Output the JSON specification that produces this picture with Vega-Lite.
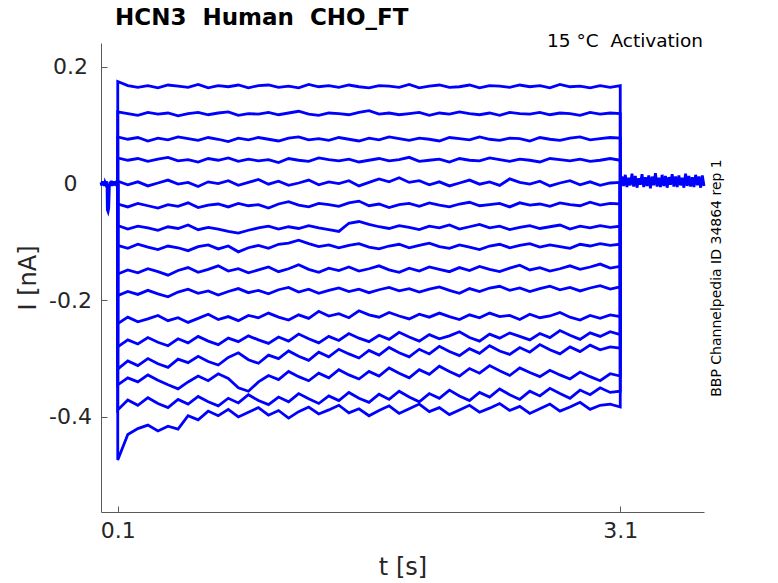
{
  "$schema": "https://vega.github.io/schema/vega-lite/v6.json",
  "width": 603,
  "height": 469,
  "autosize": {"type": "none"},
  "padding": {"left": 101, "top": 43, "right": 74, "bottom": 71},
  "background": "white",
  "title": {
    "text": "HCN3\u00a0 Human\u00a0 CHO_FT",
    "anchor": "start",
    "frame": "group",
    "dx": 14,
    "offset": -16,
    "baseline": "alphabetic",
    "font": "DejaVu Sans",
    "fontSize": 23,
    "fontWeight": "bold",
    "color": "#000000"
  },
  "datasets": {
    "traces": [
      {"s":0,"t":0,"i":2},{"s":0,"t":4,"i":-3},{"s":0,"t":8,"i":4},{"s":0,"t":12,"i":-2},{"s":0,"t":16,"i":3},{"s":0,"t":20,"i":-4},{"s":0,"t":24,"i":2},{"s":0,"t":28,"i":-1},{"s":0,"t":32,"i":4},{"s":0,"t":36,"i":-3},{"s":0,"t":38,"i":-45},{"s":0,"t":42,"i":-48},{"s":0,"t":46,"i":-42},{"s":0,"t":50,"i":-4},{"s":0,"t":54,"i":3},{"s":0,"t":58,"i":-2},{"s":0,"t":62,"i":5},{"s":0,"t":66,"i":-4},{"s":0,"t":70,"i":2},{"s":0,"t":74,"i":-3},{"s":0,"t":78,"i":4},{"s":0,"t":82,"i":-1},{"s":0,"t":86,"i":3},{"s":0,"t":90,"i":-4},{"s":0,"t":94,"i":5},{"s":0,"t":98,"i":-2},{"s":0,"t":100,"i":0},

      {"s":1,"t":100,"i":0},{"s":1,"t":100,"i":175},{"s":1,"t":160,"i":168},{"s":1,"t":220,"i":165},{"s":1,"t":280,"i":168},{"s":1,"t":340,"i":164},{"s":1,"t":400,"i":169},{"s":1,"t":460,"i":167},{"s":1,"t":520,"i":165},{"s":1,"t":580,"i":170},{"s":1,"t":640,"i":164},{"s":1,"t":700,"i":168},{"s":1,"t":760,"i":166},{"s":1,"t":820,"i":169},{"s":1,"t":880,"i":164},{"s":1,"t":940,"i":168},{"s":1,"t":1000,"i":169},{"s":1,"t":1060,"i":165},{"s":1,"t":1120,"i":167},{"s":1,"t":1180,"i":164},{"s":1,"t":1240,"i":170},{"s":1,"t":1300,"i":166},{"s":1,"t":1360,"i":168},{"s":1,"t":1420,"i":165},{"s":1,"t":1480,"i":169},{"s":1,"t":1540,"i":166},{"s":1,"t":1600,"i":164},{"s":1,"t":1660,"i":168},{"s":1,"t":1720,"i":167},{"s":1,"t":1780,"i":165},{"s":1,"t":1840,"i":170},{"s":1,"t":1900,"i":164},{"s":1,"t":1960,"i":167},{"s":1,"t":2020,"i":169},{"s":1,"t":2080,"i":165},{"s":1,"t":2140,"i":166},{"s":1,"t":2200,"i":169},{"s":1,"t":2260,"i":164},{"s":1,"t":2320,"i":168},{"s":1,"t":2380,"i":167},{"s":1,"t":2440,"i":165},{"s":1,"t":2500,"i":169},{"s":1,"t":2560,"i":166},{"s":1,"t":2620,"i":168},{"s":1,"t":2680,"i":164},{"s":1,"t":2740,"i":170},{"s":1,"t":2800,"i":166},{"s":1,"t":2860,"i":167},{"s":1,"t":2920,"i":164},{"s":1,"t":2980,"i":168},{"s":1,"t":3040,"i":165},{"s":1,"t":3100,"i":168},{"s":1,"t":3100,"i":0},

      {"s":2,"t":100,"i":0},{"s":2,"t":100,"i":123},{"s":2,"t":160,"i":120},{"s":2,"t":220,"i":117},{"s":2,"t":280,"i":122},{"s":2,"t":340,"i":119},{"s":2,"t":400,"i":121},{"s":2,"t":460,"i":116},{"s":2,"t":520,"i":120},{"s":2,"t":580,"i":122},{"s":2,"t":640,"i":118},{"s":2,"t":700,"i":121},{"s":2,"t":760,"i":123},{"s":2,"t":820,"i":117},{"s":2,"t":880,"i":120},{"s":2,"t":940,"i":119},{"s":2,"t":1000,"i":122},{"s":2,"t":1060,"i":118},{"s":2,"t":1120,"i":121},{"s":2,"t":1180,"i":124},{"s":2,"t":1240,"i":119},{"s":2,"t":1300,"i":117},{"s":2,"t":1360,"i":121},{"s":2,"t":1420,"i":120},{"s":2,"t":1480,"i":118},{"s":2,"t":1540,"i":122},{"s":2,"t":1600,"i":125},{"s":2,"t":1660,"i":119},{"s":2,"t":1720,"i":121},{"s":2,"t":1780,"i":118},{"s":2,"t":1840,"i":120},{"s":2,"t":1900,"i":122},{"s":2,"t":1960,"i":117},{"s":2,"t":2020,"i":121},{"s":2,"t":2080,"i":119},{"s":2,"t":2140,"i":123},{"s":2,"t":2200,"i":120},{"s":2,"t":2260,"i":118},{"s":2,"t":2320,"i":121},{"s":2,"t":2380,"i":117},{"s":2,"t":2440,"i":122},{"s":2,"t":2500,"i":120},{"s":2,"t":2560,"i":119},{"s":2,"t":2620,"i":122},{"s":2,"t":2680,"i":118},{"s":2,"t":2740,"i":121},{"s":2,"t":2800,"i":120},{"s":2,"t":2860,"i":117},{"s":2,"t":2920,"i":122},{"s":2,"t":2980,"i":119},{"s":2,"t":3040,"i":121},{"s":2,"t":3100,"i":120},{"s":2,"t":3100,"i":0},

      {"s":3,"t":100,"i":0},{"s":3,"t":100,"i":80},{"s":3,"t":160,"i":76},{"s":3,"t":220,"i":79},{"s":3,"t":280,"i":73},{"s":3,"t":340,"i":78},{"s":3,"t":400,"i":75},{"s":3,"t":460,"i":80},{"s":3,"t":520,"i":77},{"s":3,"t":580,"i":74},{"s":3,"t":640,"i":79},{"s":3,"t":700,"i":76},{"s":3,"t":760,"i":72},{"s":3,"t":820,"i":78},{"s":3,"t":880,"i":75},{"s":3,"t":940,"i":79},{"s":3,"t":1000,"i":76},{"s":3,"t":1060,"i":73},{"s":3,"t":1120,"i":78},{"s":3,"t":1180,"i":80},{"s":3,"t":1240,"i":75},{"s":3,"t":1300,"i":77},{"s":3,"t":1360,"i":74},{"s":3,"t":1420,"i":79},{"s":3,"t":1480,"i":76},{"s":3,"t":1540,"i":73},{"s":3,"t":1600,"i":78},{"s":3,"t":1660,"i":75},{"s":3,"t":1720,"i":80},{"s":3,"t":1780,"i":77},{"s":3,"t":1840,"i":74},{"s":3,"t":1900,"i":78},{"s":3,"t":1960,"i":76},{"s":3,"t":2020,"i":73},{"s":3,"t":2080,"i":79},{"s":3,"t":2140,"i":77},{"s":3,"t":2200,"i":75},{"s":3,"t":2260,"i":80},{"s":3,"t":2320,"i":76},{"s":3,"t":2380,"i":74},{"s":3,"t":2440,"i":78},{"s":3,"t":2500,"i":77},{"s":3,"t":2560,"i":73},{"s":3,"t":2620,"i":79},{"s":3,"t":2680,"i":76},{"s":3,"t":2740,"i":74},{"s":3,"t":2800,"i":78},{"s":3,"t":2860,"i":80},{"s":3,"t":2920,"i":75},{"s":3,"t":2980,"i":77},{"s":3,"t":3040,"i":79},{"s":3,"t":3100,"i":78},{"s":3,"t":3100,"i":0},

      {"s":4,"t":100,"i":0},{"s":4,"t":100,"i":44},{"s":4,"t":160,"i":40},{"s":4,"t":220,"i":43},{"s":4,"t":280,"i":38},{"s":4,"t":340,"i":42},{"s":4,"t":400,"i":45},{"s":4,"t":460,"i":39},{"s":4,"t":520,"i":41},{"s":4,"t":580,"i":37},{"s":4,"t":640,"i":43},{"s":4,"t":700,"i":40},{"s":4,"t":760,"i":44},{"s":4,"t":820,"i":38},{"s":4,"t":880,"i":42},{"s":4,"t":940,"i":39},{"s":4,"t":1000,"i":41},{"s":4,"t":1060,"i":36},{"s":4,"t":1120,"i":43},{"s":4,"t":1180,"i":40},{"s":4,"t":1240,"i":38},{"s":4,"t":1300,"i":44},{"s":4,"t":1360,"i":41},{"s":4,"t":1420,"i":39},{"s":4,"t":1480,"i":42},{"s":4,"t":1540,"i":37},{"s":4,"t":1600,"i":40},{"s":4,"t":1660,"i":43},{"s":4,"t":1720,"i":39},{"s":4,"t":1780,"i":41},{"s":4,"t":1840,"i":45},{"s":4,"t":1900,"i":38},{"s":4,"t":1960,"i":40},{"s":4,"t":2020,"i":42},{"s":4,"t":2080,"i":37},{"s":4,"t":2140,"i":43},{"s":4,"t":2200,"i":40},{"s":4,"t":2260,"i":39},{"s":4,"t":2320,"i":44},{"s":4,"t":2380,"i":41},{"s":4,"t":2440,"i":38},{"s":4,"t":2500,"i":42},{"s":4,"t":2560,"i":40},{"s":4,"t":2620,"i":37},{"s":4,"t":2680,"i":43},{"s":4,"t":2740,"i":41},{"s":4,"t":2800,"i":39},{"s":4,"t":2860,"i":42},{"s":4,"t":2920,"i":38},{"s":4,"t":2980,"i":40},{"s":4,"t":3040,"i":43},{"s":4,"t":3100,"i":40},{"s":4,"t":3100,"i":0},

      {"s":5,"t":100,"i":0},{"s":5,"t":100,"i":4},{"s":5,"t":160,"i":-2},{"s":5,"t":220,"i":3},{"s":5,"t":280,"i":-4},{"s":5,"t":340,"i":1},{"s":5,"t":400,"i":6},{"s":5,"t":460,"i":-1},{"s":5,"t":520,"i":2},{"s":5,"t":580,"i":-5},{"s":5,"t":640,"i":3},{"s":5,"t":700,"i":0},{"s":5,"t":760,"i":5},{"s":5,"t":820,"i":-3},{"s":5,"t":880,"i":2},{"s":5,"t":940,"i":7},{"s":5,"t":1000,"i":-1},{"s":5,"t":1060,"i":4},{"s":5,"t":1120,"i":-3},{"s":5,"t":1180,"i":1},{"s":5,"t":1240,"i":6},{"s":5,"t":1300,"i":-2},{"s":5,"t":1360,"i":3},{"s":5,"t":1420,"i":0},{"s":5,"t":1480,"i":5},{"s":5,"t":1540,"i":-4},{"s":5,"t":1600,"i":2},{"s":5,"t":1660,"i":8},{"s":5,"t":1720,"i":3},{"s":5,"t":1780,"i":10},{"s":5,"t":1840,"i":2},{"s":5,"t":1900,"i":5},{"s":5,"t":1960,"i":-2},{"s":5,"t":2020,"i":3},{"s":5,"t":2080,"i":-4},{"s":5,"t":2140,"i":1},{"s":5,"t":2200,"i":6},{"s":5,"t":2260,"i":-1},{"s":5,"t":2320,"i":3},{"s":5,"t":2380,"i":-3},{"s":5,"t":2440,"i":8},{"s":5,"t":2500,"i":2},{"s":5,"t":2560,"i":-1},{"s":5,"t":2620,"i":4},{"s":5,"t":2680,"i":-4},{"s":5,"t":2740,"i":1},{"s":5,"t":2800,"i":5},{"s":5,"t":2860,"i":-2},{"s":5,"t":2920,"i":3},{"s":5,"t":2980,"i":-3},{"s":5,"t":3040,"i":1},{"s":5,"t":3100,"i":2},{"s":5,"t":3100,"i":0},

      {"s":6,"t":100,"i":0},{"s":6,"t":100,"i":-35},{"s":6,"t":160,"i":-40},{"s":6,"t":220,"i":-34},{"s":6,"t":280,"i":-38},{"s":6,"t":340,"i":-42},{"s":6,"t":400,"i":-36},{"s":6,"t":460,"i":-39},{"s":6,"t":520,"i":-33},{"s":6,"t":580,"i":-41},{"s":6,"t":640,"i":-37},{"s":6,"t":700,"i":-35},{"s":6,"t":760,"i":-40},{"s":6,"t":820,"i":-34},{"s":6,"t":880,"i":-38},{"s":6,"t":940,"i":-36},{"s":6,"t":1000,"i":-42},{"s":6,"t":1060,"i":-35},{"s":6,"t":1120,"i":-31},{"s":6,"t":1180,"i":-37},{"s":6,"t":1240,"i":-40},{"s":6,"t":1300,"i":-34},{"s":6,"t":1360,"i":-36},{"s":6,"t":1420,"i":-39},{"s":6,"t":1480,"i":-33},{"s":6,"t":1540,"i":-30},{"s":6,"t":1600,"i":-38},{"s":6,"t":1660,"i":-35},{"s":6,"t":1720,"i":-41},{"s":6,"t":1780,"i":-36},{"s":6,"t":1840,"i":-34},{"s":6,"t":1900,"i":-39},{"s":6,"t":1960,"i":-33},{"s":6,"t":2020,"i":-37},{"s":6,"t":2080,"i":-40},{"s":6,"t":2140,"i":-35},{"s":6,"t":2200,"i":-32},{"s":6,"t":2260,"i":-38},{"s":6,"t":2320,"i":-36},{"s":6,"t":2380,"i":-34},{"s":6,"t":2440,"i":-40},{"s":6,"t":2500,"i":-33},{"s":6,"t":2560,"i":-37},{"s":6,"t":2620,"i":-35},{"s":6,"t":2680,"i":-39},{"s":6,"t":2740,"i":-33},{"s":6,"t":2800,"i":-36},{"s":6,"t":2860,"i":-38},{"s":6,"t":2920,"i":-32},{"s":6,"t":2980,"i":-37},{"s":6,"t":3040,"i":-34},{"s":6,"t":3100,"i":-35},{"s":6,"t":3100,"i":0},

      {"s":7,"t":100,"i":0},{"s":7,"t":100,"i":-72},{"s":7,"t":160,"i":-78},{"s":7,"t":220,"i":-73},{"s":7,"t":280,"i":-76},{"s":7,"t":340,"i":-80},{"s":7,"t":400,"i":-74},{"s":7,"t":460,"i":-77},{"s":7,"t":520,"i":-71},{"s":7,"t":580,"i":-79},{"s":7,"t":640,"i":-75},{"s":7,"t":700,"i":-78},{"s":7,"t":760,"i":-82},{"s":7,"t":820,"i":-85},{"s":7,"t":880,"i":-80},{"s":7,"t":940,"i":-76},{"s":7,"t":1000,"i":-73},{"s":7,"t":1060,"i":-78},{"s":7,"t":1120,"i":-74},{"s":7,"t":1180,"i":-77},{"s":7,"t":1240,"i":-72},{"s":7,"t":1300,"i":-76},{"s":7,"t":1360,"i":-79},{"s":7,"t":1420,"i":-82},{"s":7,"t":1480,"i":-68},{"s":7,"t":1540,"i":-65},{"s":7,"t":1600,"i":-70},{"s":7,"t":1660,"i":-74},{"s":7,"t":1720,"i":-77},{"s":7,"t":1780,"i":-72},{"s":7,"t":1840,"i":-75},{"s":7,"t":1900,"i":-79},{"s":7,"t":1960,"i":-73},{"s":7,"t":2020,"i":-76},{"s":7,"t":2080,"i":-71},{"s":7,"t":2140,"i":-78},{"s":7,"t":2200,"i":-74},{"s":7,"t":2260,"i":-70},{"s":7,"t":2320,"i":-76},{"s":7,"t":2380,"i":-73},{"s":7,"t":2440,"i":-79},{"s":7,"t":2500,"i":-75},{"s":7,"t":2560,"i":-72},{"s":7,"t":2620,"i":-77},{"s":7,"t":2680,"i":-74},{"s":7,"t":2740,"i":-71},{"s":7,"t":2800,"i":-78},{"s":7,"t":2860,"i":-73},{"s":7,"t":2920,"i":-76},{"s":7,"t":2980,"i":-72},{"s":7,"t":3040,"i":-75},{"s":7,"t":3100,"i":-73},{"s":7,"t":3100,"i":0},

      {"s":8,"t":100,"i":0},{"s":8,"t":100,"i":-106},{"s":8,"t":160,"i":-111},{"s":8,"t":220,"i":-104},{"s":8,"t":280,"i":-109},{"s":8,"t":340,"i":-113},{"s":8,"t":400,"i":-107},{"s":8,"t":460,"i":-110},{"s":8,"t":520,"i":-115},{"s":8,"t":580,"i":-108},{"s":8,"t":640,"i":-105},{"s":8,"t":700,"i":-112},{"s":8,"t":760,"i":-107},{"s":8,"t":820,"i":-117},{"s":8,"t":880,"i":-110},{"s":8,"t":940,"i":-106},{"s":8,"t":1000,"i":-111},{"s":8,"t":1060,"i":-104},{"s":8,"t":1120,"i":-102},{"s":8,"t":1180,"i":-97},{"s":8,"t":1240,"i":-103},{"s":8,"t":1300,"i":-108},{"s":8,"t":1360,"i":-105},{"s":8,"t":1420,"i":-110},{"s":8,"t":1480,"i":-106},{"s":8,"t":1540,"i":-103},{"s":8,"t":1600,"i":-109},{"s":8,"t":1660,"i":-112},{"s":8,"t":1720,"i":-107},{"s":8,"t":1780,"i":-104},{"s":8,"t":1840,"i":-110},{"s":8,"t":1900,"i":-106},{"s":8,"t":1960,"i":-102},{"s":8,"t":2020,"i":-108},{"s":8,"t":2080,"i":-111},{"s":8,"t":2140,"i":-105},{"s":8,"t":2200,"i":-109},{"s":8,"t":2260,"i":-113},{"s":8,"t":2320,"i":-107},{"s":8,"t":2380,"i":-104},{"s":8,"t":2440,"i":-110},{"s":8,"t":2500,"i":-106},{"s":8,"t":2560,"i":-103},{"s":8,"t":2620,"i":-109},{"s":8,"t":2680,"i":-105},{"s":8,"t":2740,"i":-108},{"s":8,"t":2800,"i":-111},{"s":8,"t":2860,"i":-104},{"s":8,"t":2920,"i":-107},{"s":8,"t":2980,"i":-103},{"s":8,"t":3040,"i":-106},{"s":8,"t":3100,"i":-104},{"s":8,"t":3100,"i":0},

      {"s":9,"t":100,"i":0},{"s":9,"t":100,"i":-155},{"s":9,"t":160,"i":-148},{"s":9,"t":220,"i":-153},{"s":9,"t":280,"i":-146},{"s":9,"t":340,"i":-151},{"s":9,"t":400,"i":-157},{"s":9,"t":460,"i":-149},{"s":9,"t":520,"i":-144},{"s":9,"t":580,"i":-152},{"s":9,"t":640,"i":-147},{"s":9,"t":700,"i":-141},{"s":9,"t":760,"i":-150},{"s":9,"t":820,"i":-146},{"s":9,"t":880,"i":-153},{"s":9,"t":940,"i":-148},{"s":9,"t":1000,"i":-143},{"s":9,"t":1060,"i":-151},{"s":9,"t":1120,"i":-146},{"s":9,"t":1180,"i":-139},{"s":9,"t":1240,"i":-147},{"s":9,"t":1300,"i":-152},{"s":9,"t":1360,"i":-145},{"s":9,"t":1420,"i":-149},{"s":9,"t":1480,"i":-143},{"s":9,"t":1540,"i":-150},{"s":9,"t":1600,"i":-146},{"s":9,"t":1660,"i":-141},{"s":9,"t":1720,"i":-148},{"s":9,"t":1780,"i":-152},{"s":9,"t":1840,"i":-145},{"s":9,"t":1900,"i":-150},{"s":9,"t":1960,"i":-143},{"s":9,"t":2020,"i":-147},{"s":9,"t":2080,"i":-151},{"s":9,"t":2140,"i":-144},{"s":9,"t":2200,"i":-149},{"s":9,"t":2260,"i":-142},{"s":9,"t":2320,"i":-147},{"s":9,"t":2380,"i":-151},{"s":9,"t":2440,"i":-145},{"s":9,"t":2500,"i":-140},{"s":9,"t":2560,"i":-148},{"s":9,"t":2620,"i":-144},{"s":9,"t":2680,"i":-150},{"s":9,"t":2740,"i":-146},{"s":9,"t":2800,"i":-141},{"s":9,"t":2860,"i":-147},{"s":9,"t":2920,"i":-143},{"s":9,"t":2980,"i":-138},{"s":9,"t":3040,"i":-145},{"s":9,"t":3100,"i":-142},{"s":9,"t":3100,"i":0},

      {"s":10,"t":100,"i":0},{"s":10,"t":100,"i":-192},{"s":10,"t":160,"i":-185},{"s":10,"t":220,"i":-190},{"s":10,"t":280,"i":-183},{"s":10,"t":340,"i":-189},{"s":10,"t":400,"i":-194},{"s":10,"t":460,"i":-186},{"s":10,"t":520,"i":-181},{"s":10,"t":580,"i":-188},{"s":10,"t":640,"i":-184},{"s":10,"t":700,"i":-191},{"s":10,"t":760,"i":-185},{"s":10,"t":820,"i":-180},{"s":10,"t":880,"i":-187},{"s":10,"t":940,"i":-183},{"s":10,"t":1000,"i":-189},{"s":10,"t":1060,"i":-182},{"s":10,"t":1120,"i":-178},{"s":10,"t":1180,"i":-186},{"s":10,"t":1240,"i":-181},{"s":10,"t":1300,"i":-188},{"s":10,"t":1360,"i":-183},{"s":10,"t":1420,"i":-179},{"s":10,"t":1480,"i":-185},{"s":10,"t":1540,"i":-181},{"s":10,"t":1600,"i":-187},{"s":10,"t":1660,"i":-182},{"s":10,"t":1720,"i":-178},{"s":10,"t":1780,"i":-184},{"s":10,"t":1840,"i":-180},{"s":10,"t":1900,"i":-186},{"s":10,"t":1960,"i":-181},{"s":10,"t":2020,"i":-177},{"s":10,"t":2080,"i":-183},{"s":10,"t":2140,"i":-188},{"s":10,"t":2200,"i":-180},{"s":10,"t":2260,"i":-185},{"s":10,"t":2320,"i":-179},{"s":10,"t":2380,"i":-176},{"s":10,"t":2440,"i":-183},{"s":10,"t":2500,"i":-179},{"s":10,"t":2560,"i":-185},{"s":10,"t":2620,"i":-180},{"s":10,"t":2680,"i":-176},{"s":10,"t":2740,"i":-182},{"s":10,"t":2800,"i":-178},{"s":10,"t":2860,"i":-184},{"s":10,"t":2920,"i":-179},{"s":10,"t":2980,"i":-175},{"s":10,"t":3040,"i":-181},{"s":10,"t":3100,"i":-177},{"s":10,"t":3100,"i":0},

      {"s":11,"t":100,"i":0},{"s":11,"t":100,"i":-240},{"s":11,"t":160,"i":-229},{"s":11,"t":220,"i":-237},{"s":11,"t":280,"i":-232},{"s":11,"t":340,"i":-226},{"s":11,"t":400,"i":-235},{"s":11,"t":460,"i":-230},{"s":11,"t":520,"i":-238},{"s":11,"t":580,"i":-231},{"s":11,"t":640,"i":-224},{"s":11,"t":700,"i":-233},{"s":11,"t":760,"i":-228},{"s":11,"t":820,"i":-235},{"s":11,"t":880,"i":-226},{"s":11,"t":940,"i":-230},{"s":11,"t":1000,"i":-222},{"s":11,"t":1060,"i":-229},{"s":11,"t":1120,"i":-234},{"s":11,"t":1180,"i":-225},{"s":11,"t":1240,"i":-231},{"s":11,"t":1300,"i":-219},{"s":11,"t":1360,"i":-227},{"s":11,"t":1420,"i":-223},{"s":11,"t":1480,"i":-230},{"s":11,"t":1540,"i":-218},{"s":11,"t":1600,"i":-225},{"s":11,"t":1660,"i":-229},{"s":11,"t":1720,"i":-221},{"s":11,"t":1780,"i":-227},{"s":11,"t":1840,"i":-232},{"s":11,"t":1900,"i":-224},{"s":11,"t":1960,"i":-229},{"s":11,"t":2020,"i":-222},{"s":11,"t":2080,"i":-228},{"s":11,"t":2140,"i":-233},{"s":11,"t":2200,"i":-225},{"s":11,"t":2260,"i":-230},{"s":11,"t":2320,"i":-222},{"s":11,"t":2380,"i":-228},{"s":11,"t":2440,"i":-226},{"s":11,"t":2500,"i":-233},{"s":11,"t":2560,"i":-224},{"s":11,"t":2620,"i":-230},{"s":11,"t":2680,"i":-227},{"s":11,"t":2740,"i":-221},{"s":11,"t":2800,"i":-229},{"s":11,"t":2860,"i":-234},{"s":11,"t":2920,"i":-226},{"s":11,"t":2980,"i":-231},{"s":11,"t":3040,"i":-225},{"s":11,"t":3100,"i":-228},{"s":11,"t":3100,"i":0},

      {"s":12,"t":100,"i":0},{"s":12,"t":100,"i":-280},{"s":12,"t":160,"i":-268},{"s":12,"t":220,"i":-275},{"s":12,"t":280,"i":-264},{"s":12,"t":340,"i":-272},{"s":12,"t":400,"i":-278},{"s":12,"t":460,"i":-266},{"s":12,"t":520,"i":-273},{"s":12,"t":580,"i":-262},{"s":12,"t":640,"i":-270},{"s":12,"t":700,"i":-276},{"s":12,"t":760,"i":-265},{"s":12,"t":820,"i":-271},{"s":12,"t":880,"i":-261},{"s":12,"t":940,"i":-268},{"s":12,"t":1000,"i":-274},{"s":12,"t":1060,"i":-263},{"s":12,"t":1120,"i":-270},{"s":12,"t":1180,"i":-258},{"s":12,"t":1240,"i":-266},{"s":12,"t":1300,"i":-273},{"s":12,"t":1360,"i":-262},{"s":12,"t":1420,"i":-269},{"s":12,"t":1480,"i":-257},{"s":12,"t":1540,"i":-265},{"s":12,"t":1600,"i":-271},{"s":12,"t":1660,"i":-260},{"s":12,"t":1720,"i":-267},{"s":12,"t":1780,"i":-255},{"s":12,"t":1840,"i":-263},{"s":12,"t":1900,"i":-270},{"s":12,"t":1960,"i":-259},{"s":12,"t":2020,"i":-266},{"s":12,"t":2080,"i":-261},{"s":12,"t":2140,"i":-254},{"s":12,"t":2200,"i":-264},{"s":12,"t":2260,"i":-270},{"s":12,"t":2320,"i":-258},{"s":12,"t":2380,"i":-265},{"s":12,"t":2440,"i":-256},{"s":12,"t":2500,"i":-262},{"s":12,"t":2560,"i":-268},{"s":12,"t":2620,"i":-257},{"s":12,"t":2680,"i":-264},{"s":12,"t":2740,"i":-252},{"s":12,"t":2800,"i":-260},{"s":12,"t":2860,"i":-267},{"s":12,"t":2920,"i":-256},{"s":12,"t":2980,"i":-262},{"s":12,"t":3040,"i":-254},{"s":12,"t":3100,"i":-259},{"s":12,"t":3100,"i":0},

      {"s":13,"t":100,"i":0},{"s":13,"t":100,"i":-318},{"s":13,"t":160,"i":-304},{"s":13,"t":220,"i":-312},{"s":13,"t":280,"i":-300},{"s":13,"t":340,"i":-309},{"s":13,"t":400,"i":-315},{"s":13,"t":460,"i":-301},{"s":13,"t":520,"i":-307},{"s":13,"t":580,"i":-296},{"s":13,"t":640,"i":-305},{"s":13,"t":700,"i":-311},{"s":13,"t":760,"i":-298},{"s":13,"t":820,"i":-290},{"s":13,"t":880,"i":-302},{"s":13,"t":940,"i":-308},{"s":13,"t":1000,"i":-294},{"s":13,"t":1060,"i":-300},{"s":13,"t":1120,"i":-287},{"s":13,"t":1180,"i":-296},{"s":13,"t":1240,"i":-303},{"s":13,"t":1300,"i":-289},{"s":13,"t":1360,"i":-297},{"s":13,"t":1420,"i":-284},{"s":13,"t":1480,"i":-292},{"s":13,"t":1540,"i":-299},{"s":13,"t":1600,"i":-286},{"s":13,"t":1660,"i":-294},{"s":13,"t":1720,"i":-281},{"s":13,"t":1780,"i":-290},{"s":13,"t":1840,"i":-297},{"s":13,"t":1900,"i":-284},{"s":13,"t":1960,"i":-292},{"s":13,"t":2020,"i":-279},{"s":13,"t":2080,"i":-288},{"s":13,"t":2140,"i":-295},{"s":13,"t":2200,"i":-283},{"s":13,"t":2260,"i":-291},{"s":13,"t":2320,"i":-278},{"s":13,"t":2380,"i":-287},{"s":13,"t":2440,"i":-293},{"s":13,"t":2500,"i":-281},{"s":13,"t":2560,"i":-289},{"s":13,"t":2620,"i":-276},{"s":13,"t":2680,"i":-285},{"s":13,"t":2740,"i":-292},{"s":13,"t":2800,"i":-280},{"s":13,"t":2860,"i":-288},{"s":13,"t":2920,"i":-277},{"s":13,"t":2980,"i":-285},{"s":13,"t":3040,"i":-280},{"s":13,"t":3100,"i":-282},{"s":13,"t":3100,"i":0},

      {"s":14,"t":100,"i":0},{"s":14,"t":100,"i":-345},{"s":14,"t":160,"i":-333},{"s":14,"t":220,"i":-340},{"s":14,"t":280,"i":-328},{"s":14,"t":340,"i":-337},{"s":14,"t":400,"i":-345},{"s":14,"t":460,"i":-352},{"s":14,"t":520,"i":-340},{"s":14,"t":580,"i":-330},{"s":14,"t":640,"i":-338},{"s":14,"t":700,"i":-326},{"s":14,"t":760,"i":-334},{"s":14,"t":820,"i":-350},{"s":14,"t":880,"i":-356},{"s":14,"t":940,"i":-340},{"s":14,"t":1000,"i":-329},{"s":14,"t":1060,"i":-336},{"s":14,"t":1120,"i":-322},{"s":14,"t":1180,"i":-331},{"s":14,"t":1240,"i":-338},{"s":14,"t":1300,"i":-325},{"s":14,"t":1360,"i":-333},{"s":14,"t":1420,"i":-319},{"s":14,"t":1480,"i":-328},{"s":14,"t":1540,"i":-335},{"s":14,"t":1600,"i":-322},{"s":14,"t":1660,"i":-330},{"s":14,"t":1720,"i":-316},{"s":14,"t":1780,"i":-325},{"s":14,"t":1840,"i":-333},{"s":14,"t":1900,"i":-319},{"s":14,"t":1960,"i":-327},{"s":14,"t":2020,"i":-313},{"s":14,"t":2080,"i":-322},{"s":14,"t":2140,"i":-330},{"s":14,"t":2200,"i":-317},{"s":14,"t":2260,"i":-325},{"s":14,"t":2320,"i":-312},{"s":14,"t":2380,"i":-321},{"s":14,"t":2440,"i":-329},{"s":14,"t":2500,"i":-316},{"s":14,"t":2560,"i":-324},{"s":14,"t":2620,"i":-331},{"s":14,"t":2680,"i":-320},{"s":14,"t":2740,"i":-328},{"s":14,"t":2800,"i":-335},{"s":14,"t":2860,"i":-323},{"s":14,"t":2920,"i":-331},{"s":14,"t":2980,"i":-338},{"s":14,"t":3040,"i":-326},{"s":14,"t":3100,"i":-330},{"s":14,"t":3100,"i":0},

      {"s":15,"t":100,"i":0},{"s":15,"t":100,"i":-388},{"s":15,"t":160,"i":-371},{"s":15,"t":220,"i":-380},{"s":15,"t":280,"i":-367},{"s":15,"t":340,"i":-377},{"s":15,"t":400,"i":-384},{"s":15,"t":460,"i":-370},{"s":15,"t":520,"i":-378},{"s":15,"t":580,"i":-365},{"s":15,"t":640,"i":-374},{"s":15,"t":700,"i":-381},{"s":15,"t":760,"i":-368},{"s":15,"t":820,"i":-376},{"s":15,"t":880,"i":-362},{"s":15,"t":940,"i":-372},{"s":15,"t":1000,"i":-379},{"s":15,"t":1060,"i":-366},{"s":15,"t":1120,"i":-374},{"s":15,"t":1180,"i":-360},{"s":15,"t":1240,"i":-369},{"s":15,"t":1300,"i":-377},{"s":15,"t":1360,"i":-364},{"s":15,"t":1420,"i":-372},{"s":15,"t":1480,"i":-358},{"s":15,"t":1540,"i":-368},{"s":15,"t":1600,"i":-375},{"s":15,"t":1660,"i":-361},{"s":15,"t":1720,"i":-370},{"s":15,"t":1780,"i":-356},{"s":15,"t":1840,"i":-366},{"s":15,"t":1900,"i":-374},{"s":15,"t":1960,"i":-360},{"s":15,"t":2020,"i":-368},{"s":15,"t":2080,"i":-354},{"s":15,"t":2140,"i":-364},{"s":15,"t":2200,"i":-372},{"s":15,"t":2260,"i":-358},{"s":15,"t":2320,"i":-366},{"s":15,"t":2380,"i":-352},{"s":15,"t":2440,"i":-362},{"s":15,"t":2500,"i":-370},{"s":15,"t":2560,"i":-356},{"s":15,"t":2620,"i":-364},{"s":15,"t":2680,"i":-351},{"s":15,"t":2740,"i":-360},{"s":15,"t":2800,"i":-368},{"s":15,"t":2860,"i":-354},{"s":15,"t":2920,"i":-362},{"s":15,"t":2980,"i":-350},{"s":15,"t":3040,"i":-358},{"s":15,"t":3100,"i":-356},{"s":15,"t":3100,"i":0},

      {"s":16,"t":100,"i":0},{"s":16,"t":100,"i":-474},{"s":16,"t":160,"i":-430},{"s":16,"t":220,"i":-420},{"s":16,"t":280,"i":-414},{"s":16,"t":340,"i":-424},{"s":16,"t":400,"i":-416},{"s":16,"t":460,"i":-421},{"s":16,"t":520,"i":-398},{"s":16,"t":580,"i":-405},{"s":16,"t":640,"i":-390},{"s":16,"t":700,"i":-398},{"s":16,"t":760,"i":-387},{"s":16,"t":820,"i":-400},{"s":16,"t":880,"i":-392},{"s":16,"t":940,"i":-384},{"s":16,"t":1000,"i":-397},{"s":16,"t":1060,"i":-389},{"s":16,"t":1120,"i":-402},{"s":16,"t":1180,"i":-391},{"s":16,"t":1240,"i":-383},{"s":16,"t":1300,"i":-395},{"s":16,"t":1360,"i":-388},{"s":16,"t":1420,"i":-380},{"s":16,"t":1480,"i":-393},{"s":16,"t":1540,"i":-386},{"s":16,"t":1600,"i":-398},{"s":16,"t":1660,"i":-389},{"s":16,"t":1720,"i":-381},{"s":16,"t":1780,"i":-394},{"s":16,"t":1840,"i":-386},{"s":16,"t":1900,"i":-378},{"s":16,"t":1960,"i":-391},{"s":16,"t":2020,"i":-384},{"s":16,"t":2080,"i":-396},{"s":16,"t":2140,"i":-388},{"s":16,"t":2200,"i":-380},{"s":16,"t":2260,"i":-392},{"s":16,"t":2320,"i":-385},{"s":16,"t":2380,"i":-377},{"s":16,"t":2440,"i":-389},{"s":16,"t":2500,"i":-382},{"s":16,"t":2560,"i":-394},{"s":16,"t":2620,"i":-386},{"s":16,"t":2680,"i":-378},{"s":16,"t":2740,"i":-390},{"s":16,"t":2800,"i":-383},{"s":16,"t":2860,"i":-375},{"s":16,"t":2920,"i":-387},{"s":16,"t":2980,"i":-380},{"s":16,"t":3040,"i":-378},{"s":16,"t":3100,"i":-383},{"s":16,"t":3100,"i":0},

      {"s":17,"t":3100,"i":0},{"s":17,"t":3110,"i":12},{"s":17,"t":3120,"i":-4},{"s":17,"t":3130,"i":15},{"s":17,"t":3140,"i":-6},{"s":17,"t":3150,"i":10},{"s":17,"t":3160,"i":-3},{"s":17,"t":3170,"i":17},{"s":17,"t":3180,"i":-5},{"s":17,"t":3190,"i":13},{"s":17,"t":3200,"i":-7},{"s":17,"t":3210,"i":9},{"s":17,"t":3220,"i":-2},{"s":17,"t":3230,"i":16},{"s":17,"t":3240,"i":-6},{"s":17,"t":3250,"i":11},{"s":17,"t":3260,"i":-4},{"s":17,"t":3270,"i":14},{"s":17,"t":3280,"i":-8},{"s":17,"t":3290,"i":12},{"s":17,"t":3300,"i":-3},{"s":17,"t":3310,"i":18},{"s":17,"t":3320,"i":-5},{"s":17,"t":3330,"i":10},{"s":17,"t":3340,"i":-6},{"s":17,"t":3350,"i":15},{"s":17,"t":3360,"i":-4},{"s":17,"t":3370,"i":13},{"s":17,"t":3380,"i":-7},{"s":17,"t":3390,"i":11},{"s":17,"t":3400,"i":-2},{"s":17,"t":3410,"i":16},{"s":17,"t":3420,"i":-5},{"s":17,"t":3430,"i":12},{"s":17,"t":3440,"i":-6},{"s":17,"t":3450,"i":14},{"s":17,"t":3460,"i":-3},{"s":17,"t":3470,"i":10},{"s":17,"t":3480,"i":-7},{"s":17,"t":3490,"i":17},{"s":17,"t":3500,"i":-4},{"s":17,"t":3510,"i":13},{"s":17,"t":3520,"i":-5},{"s":17,"t":3530,"i":11},{"s":17,"t":3540,"i":-6},{"s":17,"t":3550,"i":15},{"s":17,"t":3560,"i":-3},{"s":17,"t":3570,"i":12},{"s":17,"t":3580,"i":-7},{"s":17,"t":3590,"i":14},{"s":17,"t":3600,"i":-4}
    ]
  },
  "layer": [
    {
      "data": {"name": "traces"},
      "mark": {"type": "line", "color": "#0000ff", "strokeWidth": 2.8},
      "encoding": {
        "x": {
          "field": "t",
          "type": "quantitative",
          "scale": {"domain": [0, 3600], "nice": false, "zero": false},
          "axis": {
            "values": [100, 3100],
            "labelExpr": "format(datum.value / 1000, '.1f')",
            "title": "t [s]"
          }
        },
        "y": {
          "field": "i",
          "type": "quantitative",
          "scale": {"domain": [-563, 241], "nice": false, "zero": false},
          "axis": {
            "orient": "left",
            "values": [-400, -200, 0, 200],
            "labelExpr": "datum.value == 0 ? '0' : (datum.value < 0 ? '-' : '') + format(abs(datum.value) / 1000, '.1f')",
            "labelAlign": "center",
            "labelBaseline": "middle",
            "labelPadding": 37,
            "title": "I [nA]",
            "titlePadding": 8
          }
        },
        "detail": {"field": "s", "type": "nominal"},
        "order": {"value": null}
      }
    },
    {
      "data": {"values": [{}]},
      "mark": {
        "type": "text",
        "align": "right",
        "baseline": "middle",
        "dx": -1,
        "dy": -2,
        "font": "DejaVu Sans",
        "fontSize": 18.5,
        "color": "#000000"
      },
      "encoding": {
        "x": {"datum": 3600, "type": "quantitative", "axis": {"values": [100, 3100], "labelExpr": "format(datum.value / 1000, '.1f')", "title": "t [s]"}},
        "y": {
          "datum": 241,
          "type": "quantitative",
          "axis": {
            "orient": "right",
            "domain": false,
            "ticks": false,
            "labels": false,
            "title": "BBP Channelpedia ID 34864 rep 1",
            "titleFontSize": 14,
            "titleColor": "#000000",
            "titleAngle": 270,
            "titleBaseline": "top",
            "titlePadding": 5
          }
        },
        "text": {"value": "15 °C\u00a0 Activation"}
      }
    }
  ],
  "resolve": {"axis": {"y": "independent"}},
  "config": {
    "view": {"stroke": null},
    "axis": {
      "grid": false,
      "domainColor": "#5a5a5a",
      "domainWidth": 1,
      "tickColor": "#5a5a5a",
      "tickSize": -6,
      "labelFont": "DejaVu Sans",
      "labelFontSize": 22,
      "labelColor": "#262626",
      "titleFont": "DejaVu Sans",
      "titleFontSize": 24,
      "titleFontWeight": "normal",
      "titleColor": "#262626"
    },
    "axisX": {"labelPadding": 14, "titlePadding": 14}
  }
}
